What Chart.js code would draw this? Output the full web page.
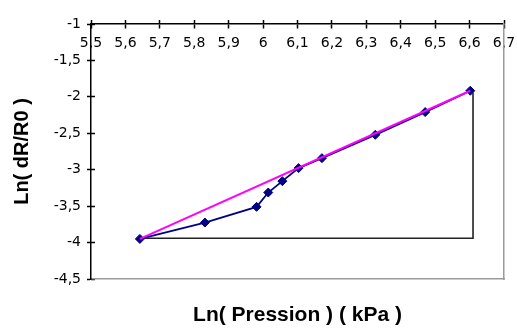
<!DOCTYPE html>
<html><head><meta charset="utf-8">
<script src="https://cdn.jsdelivr.net/npm/chart.js@4/dist/chart.umd.min.js"></script>
<style>html,body{margin:0;padding:0;background:#fff;}canvas{display:block;}</style>
</head><body>
<canvas id="c" width="517" height="329"></canvas>
<script>
// Tick labels
const xTickLabels = ['5,5','5,6','5,7','5,8','5,9','6','6,1','6,2','6,3','6,4','6,5','6,6','6,7'];
const yTickLabels = ['-4,5','-4','-3,5','-3','-2,5','-2','-1,5','-1'];
// Measured series: Ln(Pression) vs Ln(dR/R0)
const lnPression = [5.642, 5.831, 5.981, 6.015, 6.056, 6.103, 6.171, 6.326, 6.471, 6.602];
const lnDR       = [-3.95, -3.725, -3.51, -3.313, -3.157, -2.978, -2.841, -2.521, -2.209, -1.916];
// Magenta straight line (first to last point)
const fitX = [5.642, 6.602];
const fitY = [-3.95, -1.916];
// Black slope triangle
const triX = [5.642, 6.61, 6.61];
const triY = [-3.94, -3.94, -1.94];

const pts = (xs, ys) => xs.map((x, i) => ({x: x, y: ys[i]}));
const tickFont = {family: 'DejaVu Sans', size: 14};
const X_MIN = 5.5, X_MAX = 6.7, Y_MIN = -4.5, Y_MAX = -1;
const noPad = s => { s.paddingLeft = 0; s.paddingRight = 0; s.paddingTop = 0; s.paddingBottom = 0; };

new Chart(document.getElementById('c'), {
  type: 'scatter',
  data: {
    datasets: [
      {
        label: 'fit', data: pts(fitX, fitY), showLine: true,
        borderColor: '#ff00ff', borderWidth: 2, pointRadius: 0, order: 1
      },
      {
        label: 'mesures', data: pts(lnPression, lnDR), showLine: true,
        borderColor: '#000080', backgroundColor: '#000080', borderWidth: 1.8,
        pointStyle: 'rectRot', pointRadius: 4.5, pointBorderWidth: 1, order: 2
      },
      {
        label: 'triangle', data: pts(triX, triY), showLine: true,
        borderColor: '#222222', borderWidth: 1.6, pointRadius: 0, order: 3
      }
    ]
  },
  options: {
    responsive: false,
    devicePixelRatio: 1,
    animation: false,
    layout: {padding: 0},
    plugins: {legend: {display: false}, tooltip: {enabled: false}},
    scales: {
      x: {
        type: 'linear', position: {y: Y_MAX}, min: X_MIN, max: X_MAX,
        ticks: {
          stepSize: 0.1, color: '#000', font: tickFont, padding: 7, maxRotation: 0, autoSkip: false,
          callback: v => xTickLabels[Math.round((v - X_MIN) * 10)]
        },
        grid: {drawOnChartArea: false, tickLength: 4, tickColor: '#000', tickWidth: 1.5},
        border: {color: '#000', width: 1.5},
        afterFit: noPad
      },
      xTop: {
        type: 'linear', position: 'top', min: X_MIN, max: X_MAX,
        ticks: {display: false, stepSize: 0.1},
        grid: {drawOnChartArea: false, tickLength: 4, tickColor: '#000', tickWidth: 1.5},
        border: {display: false},
        afterFit: s => { noPad(s); s.height = 24; }
      },
      xBottom: {
        type: 'linear', position: 'bottom', min: X_MIN, max: X_MAX,
        ticks: {display: false},
        grid: {display: false},
        border: {color: '#9a9a9a', width: 1.5},
        title: {
          display: true, text: 'Ln( Pression ) ( kPa )', color: '#000',
          font: {family: 'Liberation Sans', size: 21, weight: 'bold'},
          padding: {top: 24, bottom: 1}
        },
        afterFit: s => { noPad(s); s.height = 50; }
      },
      y: {
        type: 'linear', position: 'left', min: Y_MIN, max: Y_MAX,
        ticks: {
          stepSize: 0.5, color: '#000', font: tickFont, padding: 6,
          callback: v => yTickLabels[Math.round((v - Y_MIN) * 2)]
        },
        grid: {drawOnChartArea: false, tickLength: 4, tickColor: '#000', tickWidth: 1.5},
        border: {color: '#000', width: 1.5},
        title: {
          display: true, text: 'Ln( dR/R0 )', color: '#000',
          font: {family: 'Liberation Sans', size: 20, weight: 'bold'},
          padding: {top: 10.5, bottom: 10}
        },
        afterFit: s => { noPad(s); s.width = 91; }
      },
      yIn: {
        type: 'linear', position: {x: X_MIN}, min: Y_MIN, max: Y_MAX,
        ticks: {display: false, stepSize: 0.5},
        grid: {drawOnChartArea: false, tickLength: -4, tickColor: '#000', tickWidth: 1.5},
        border: {display: false},
        afterFit: noPad
      },
      yRight: {
        type: 'linear', position: 'right', min: Y_MIN, max: Y_MAX,
        ticks: {display: false},
        grid: {display: false},
        border: {color: '#9a9a9a', width: 1.5},
        afterFit: s => { noPad(s); s.width = 13; }
      }
    }
  }
});
</script>
</body></html>
